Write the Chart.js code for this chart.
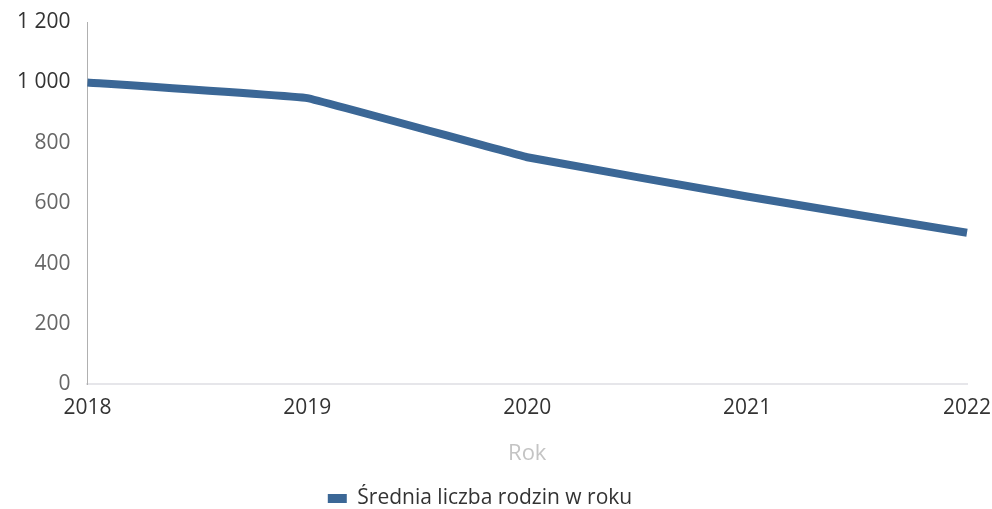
<!DOCTYPE html>
<html>
<head>
<meta charset="utf-8">
<script src="https://cdn.jsdelivr.net/npm/chart.js@4"></script>
<style>
  html, body { margin: 0; padding: 0; background: #fff; }
  #wrap { width: 992px; height: 509px; }
</style>
</head>
<body>
<div id="wrap"><canvas id="myChart-rodziny"></canvas></div>
<script>
  // DATA
  const years = ['2018', '2019', '2020', '2021', '2022'];
  const avgFamilies = [1000, 948, 752, 622, 502];
  const yTicks = [0, 200, 400, 600, 800, 1000, 1200];

  const lineColor = '#3b6796';

  function formatThousands(v) {
    return String(v).replace(/\B(?=(\d{3})+(?!\d))/g, ' ');
  }

  // legend sits a bit left of the centre in the original
  const legendShift = {
    id: 'legendShift',
    afterLayout(chart) {
      chart.legend.left -= 16;
      chart.legend.right -= 16;
    }
  };

  function createChart() {
    const ctx = document.getElementById('myChart-rodziny').getContext('2d');
    new Chart(ctx, {
      type: 'line',
      data: {
        labels: years,
        datasets: [{
          label: 'Średnia liczba rodzin w roku',
          data: avgFamilies,
          borderColor: lineColor,
          backgroundColor: lineColor,
          borderWidth: 8,
          pointRadius: 0,
          tension: 0.05,
          fill: false
        }]
      },
      plugins: [legendShift],
      options: {
        responsive: true,
        maintainAspectRatio: false,
        animation: false,
        layout: { padding: { top: 0, right: 0, left: 0, bottom: -10 } },
        plugins: {
          legend: {
            position: 'bottom',
            labels: {
              boxWidth: 19,
              boxHeight: 9,
              color: '#333',
              font: { family: 'Open Sans', size: 21 },
              padding: 4,
              // no thick border on the legend box
              generateLabels: chart => Chart.defaults.plugins.legend.labels.generateLabels(chart)
                .map(item => Object.assign(item, { lineWidth: 0 }))
            }
          },
          tooltip: { enabled: false }
        },
        scales: {
          x: {
            offset: false,
            afterFit: axis => { axis.paddingRight = 25; },
            grid: { display: false, drawTicks: false },
            border: { display: true, color: '#e6e6ea', width: 2 },
            ticks: {
              color: '#333',
              font: { family: 'Open Sans', size: 21 },
              padding: 11,
              maxRotation: 0
            },
            title: {
              display: true,
              text: 'Rok',
              color: '#c4c4c4',
              font: { family: 'Open Sans', size: 22 },
              padding: { top: 9, bottom: 17 }
            }
          },
          y: {
            min: 0,
            max: 1200,
            afterBuildTicks: axis => { axis.ticks = yTicks.map(v => ({ value: v })); },
            afterFit: axis => { axis.paddingTop = 22; },
            grid: { display: false, drawTicks: false },
            border: { display: true, color: '#b0b0b0', width: 1, dash: [2, 1] },
            ticks: {
              color: c => (c.tick && c.tick.value >= 1000 ? '#333' : '#666'),
              font: { family: 'Open Sans', size: 21 },
              padding: 17,
              callback: v => formatThousands(v)
            }
          }
        }
      }
    });
  }

  window.onload = function () {
    createChart();
  };
</script>
</body>
</html>
